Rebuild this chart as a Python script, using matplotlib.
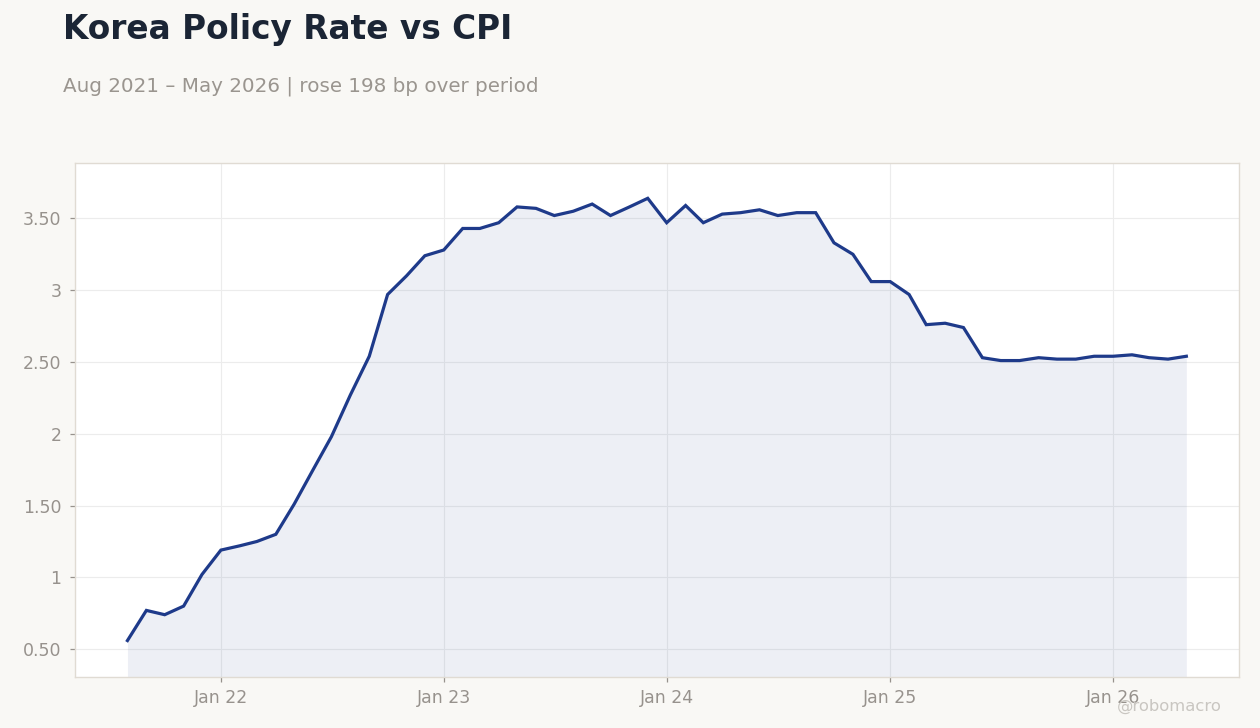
import matplotlib
matplotlib.use("Agg")
import matplotlib.pyplot as plt
import matplotlib.dates as mdates
from matplotlib.ticker import FuncFormatter, MultipleLocator
import pandas as pd

# ---- data -------------------------------------------------------------
start_month = "2021-08-01"
rate_2021 = [0.56, 0.77, 0.74, 0.80, 1.02]
rate_2022 = [1.19, 1.22, 1.25, 1.30, 1.51, 1.75, 1.98, 2.27, 2.54, 2.97, 3.10, 3.24]
rate_2023 = [3.28, 3.43, 3.43, 3.47, 3.58, 3.57, 3.52, 3.55, 3.60, 3.52, 3.58, 3.64]
rate_2024 = [3.47, 3.59, 3.47, 3.53, 3.54, 3.56, 3.52, 3.54, 3.54, 3.33, 3.25, 3.06]
rate_2025 = [3.06, 2.97, 2.76, 2.77, 2.74, 2.53, 2.51, 2.51, 2.53, 2.52, 2.52, 2.54]
rate_2026 = [2.54, 2.55, 2.53, 2.52, 2.54]

values = rate_2021 + rate_2022 + rate_2023 + rate_2024 + rate_2025 + rate_2026
dates = pd.date_range(start_month, periods=len(values), freq="MS")

title = "Korea Policy Rate vs CPI"
subtitle = "Aug 2021 \u2013 May 2026 | rose 198 bp over period"
watermark = "@robomacro"

# ---- style ------------------------------------------------------------
bg = "#f9f8f5"
line_c = "#1e3a8a"
tick_c = "#97928d"
spine_c = "#e0dbd3"
grid_c = "#ececec"

fig = plt.figure(figsize=(12.6, 7.28), dpi=100, facecolor=bg)
ax = fig.add_axes([74.5 / 1260, 1 - 676.6 / 728, (1239.3 - 74.5) / 1260, (676.6 - 162.7) / 728])
ax.set_facecolor("white")

ylo, yhi = 0.309, 3.888
ax.fill_between(dates, values, ylo, color=line_c, alpha=0.08, linewidth=0, zorder=2)
ax.plot(dates, values, color=line_c, linewidth=2.3, zorder=3, solid_joinstyle="miter")

ax.set_ylim(ylo, yhi)
ax.margins(x=0.05)

ax.yaxis.set_major_locator(MultipleLocator(0.5))
ax.yaxis.set_major_formatter(FuncFormatter(
    lambda v, p: (f"{int(round(v))}" if abs(v - round(v)) < 1e-9 else f"{v:.2f}")))
ax.xaxis.set_major_locator(mdates.YearLocator(month=1, day=1))
ax.xaxis.set_major_formatter(mdates.DateFormatter("%b %y"))

ax.grid(True, color=grid_c, linewidth=0.8, zorder=1)
ax.set_axisbelow(True)
for s in ax.spines.values():
    s.set_color(spine_c)
    s.set_linewidth(1.0)

ax.tick_params(axis="both", colors=tick_c, labelcolor=tick_c, labelsize=12.5,
               length=3.5, width=0.9, pad=6)
ax.tick_params(axis="x", pad=5.5)

fig.text(0.05, 1 - 39.3 / 728, title, fontsize=23.6, fontweight="bold",
         color="#1b2535", va="baseline", ha="left")
fig.text(0.05, 1 - 91.5 / 728, subtitle, fontsize=14.3, color="#9a958f",
         va="baseline", ha="left")
fig.text(1222 / 1260, 1 - 710.7 / 728, watermark, fontsize=11.8, color="#c9c6c1",
         va="baseline", ha="right", zorder=10)

fig.savefig("out.png", dpi=100, facecolor=bg)
